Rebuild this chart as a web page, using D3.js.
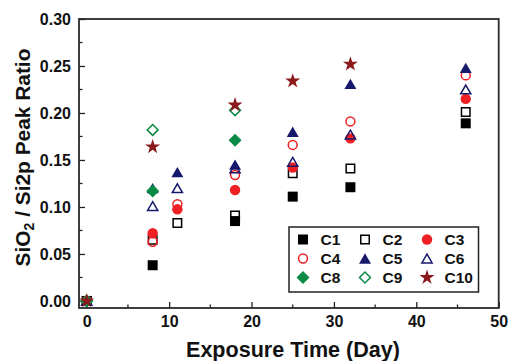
<!DOCTYPE html>
<html><head><meta charset="utf-8">
<script src="https://cdn.jsdelivr.net/npm/d3@7"></script>
<style>body{margin:0;background:#fff}svg{display:block}text{font-family:"Liberation Sans",Arial,sans-serif;font-weight:bold;fill:#111}</style>
</head><body><svg id="c" width="510" height="361"></svg>
<script>
const days = [0, 8, 11, 18, 25, 32, 46];
const seriesNames = ["C1","C2","C3","C4","C5","C6","C8","C9","C10"];
const C1  = [0, 0.038, null, 0.085, 0.111, 0.121, 0.189];
const C2  = [0, 0.065, 0.083, 0.091, 0.136, 0.141, 0.201];
const C3  = [0, 0.072, 0.0975, 0.118, 0.142, 0.173, 0.215];
const C4  = [0, 0.063, 0.103, 0.134, 0.166, 0.191, 0.240];
const C5  = [0, 0.120, 0.137, 0.145, 0.180, 0.231, 0.248];
const C6  = [0, 0.101, 0.120, 0.141, 0.148, 0.177, 0.225];
const C8  = [0, 0.117, null, 0.171, null, null, null];
const C9  = [0, 0.182, null, 0.203, null, null, null];
const C10 = [0, 0.164, null, 0.2085, 0.234, 0.252, null];
const xTicks = [0, 10, 20, 30, 40, 50];
const yTicks = [0, 0.05, 0.10, 0.15, 0.20, 0.25, 0.30];

const values = [C1,C2,C3,C4,C5,C6,C8,C9,C10];
const red = "#ee2024", navy = "#16186b", green = "#0a8a45", black = "#000", maroon = "#8b1a1c";
const styles = [
  {shape:"square", color:black, fill:true},
  {shape:"square", color:black, fill:false},
  {shape:"circle", color:red, fill:true},
  {shape:"circle", color:red, fill:false},
  {shape:"triangle", color:navy, fill:true},
  {shape:"triangle", color:navy, fill:false},
  {shape:"diamond", color:green, fill:true},
  {shape:"diamond", color:green, fill:false},
  {shape:"star", color:maroon, fill:true}
];

const svg = d3.select("#c");
const L = 79, R = 498.7, T = 19, B = 308;
const x = d3.scaleLinear().domain([-0.94, 50]).range([L, R]);
const y = d3.scaleLinear().domain([-0.0075, 0.30]).range([B, T]);
const FONT = '"Liberation Sans",Arial,sans-serif';

function symPath(shape, open) {
  const d = open ? -1.5 : 0;
  switch (shape) {
    case "square": { const s = 10 + d; return d3.symbol(d3.symbolSquare, s*s)(); }
    case "circle": { const r = 5.2 + d/2; return d3.symbol(d3.symbolCircle, Math.PI*r*r)(); }
    case "triangle": {
      const w = 12 + d*1.2, h = w*0.86;
      return `M0,${-h/2}L${w/2},${h/2}L${-w/2},${h/2}Z`;
    }
    case "diamond": { const r = 6.5 + d*0.7; return `M0,${-r}L${r},0L0,${r}L${-r},0Z`; }
    case "star": return d3.symbol(d3.symbolStar, 70)();
  }
}
function drawMark(g, st, cx, cy) {
  g.append("path").attr("d", symPath(st.shape, !st.fill))
    .attr("transform", `translate(${cx},${cy})`)
    .attr("fill", st.fill ? st.color : "none")
    .attr("stroke", st.fill ? "none" : st.color)
    .attr("stroke-width", st.fill ? 0 : 1.5);
}

// ticks (inward)
const axG = svg.append("g");
const xAxis = d3.axisBottom(x).tickValues(xTicks).tickSize(-6).tickFormat(d3.format("d")).tickPadding(8);
const gx = axG.append("g").attr("transform", `translate(0,${B})`).call(xAxis);
const yAxis = d3.axisLeft(y).tickValues(yTicks).tickSize(-6).tickFormat(d3.format(".2f")).tickPadding(8);
const gy = axG.append("g").attr("transform", `translate(${L},0)`).call(yAxis);
[gx, gy].forEach(g => {
  g.select(".domain").remove();
  g.selectAll("line").attr("stroke", "#222").attr("stroke-width", 1.3);
  g.selectAll("text").attr("font-size", 16).attr("font-family", FONT).attr("font-weight", "bold").attr("fill", "#111");
});
// minor ticks
const xMinor = d3.range(5, 50, 10);
axG.selectAll(".xm").data(xMinor).join("line")
  .attr("x1", d => x(d)).attr("x2", d => x(d)).attr("y1", B).attr("y2", B - 3.5)
  .attr("stroke", "#222").attr("stroke-width", 1.3);
const yMinor = d3.range(0.025, 0.3, 0.05);
axG.selectAll(".ym").data(yMinor).join("line")
  .attr("y1", d => y(d)).attr("y2", d => y(d)).attr("x1", L).attr("x2", L + 3.5)
  .attr("stroke", "#222").attr("stroke-width", 1.3);

// frame
svg.append("rect").attr("x", L).attr("y", T).attr("width", R - L).attr("height", B - T)
  .attr("fill", "none").attr("stroke", "#2a2a2a").attr("stroke-width", 1.8);

// data
const dg = svg.append("g");
values.forEach((arr, i) => {
  arr.forEach((v, j) => {
    if (v === null) return;
    drawMark(dg, styles[i], x(days[j]), y(v));
  });
});

// legend
const lg = svg.append("g");
lg.append("rect").attr("x", 289).attr("y", 227).attr("width", 189.5).attr("height", 65)
  .attr("fill", "#fff").attr("stroke", "#222").attr("stroke-width", 1.5);
const colX = [303, 365, 427], rowY = [239.5, 258.5, 277.5];
seriesNames.forEach((n, i) => {
  const c = i % 3, r = Math.floor(i / 3);
  drawMark(lg, styles[i], colX[c], rowY[r]);
  lg.append("text").attr("x", colX[c] + 17.5).attr("y", rowY[r] + 5.5)
    .attr("font-size", 15.5).text(n);
});

// axis titles, fitted to the reference extents
function fit(sel, target) {
  const fs = +sel.attr("font-size");
  const w = sel.node().getBBox().width;
  const k = target / w;
  sel.attr("font-size", fs * k);
  sel.selectAll("tspan").each(function() {
    const t = d3.select(this);
    if (t.attr("font-size")) t.attr("font-size", +t.attr("font-size") * k);
    if (t.attr("dy")) t.attr("dy", +t.attr("dy") * k);
  });
}
const xt = svg.append("text").attr("x", 293).attr("y", 357).attr("text-anchor", "middle")
  .attr("font-size", 20).text("Exposure Time (Day)");
fit(xt, 214);
const yt = svg.append("text").attr("transform", `translate(29.5,157.5) rotate(-90)`)
  .attr("text-anchor", "middle").attr("font-size", 20);
yt.append("tspan").text("SiO");
yt.append("tspan").attr("font-size", 13.5).attr("dy", 4.3).text("2");
yt.append("tspan").attr("dy", -4.3).text(" / Si2p Peak Ratio");
fit(yt, 218);
</script></body></html>
